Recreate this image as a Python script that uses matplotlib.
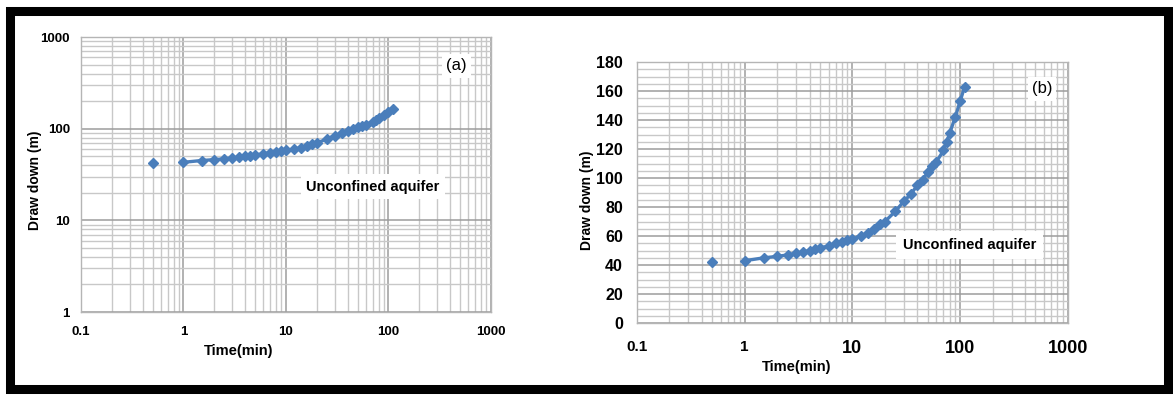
import numpy as np
import matplotlib
matplotlib.use("Agg")
import matplotlib.pyplot as plt
import matplotlib.patches as patches
from matplotlib.ticker import LogLocator, MultipleLocator, NullFormatter, FixedLocator

plt.rcParams['font.family'] = ['Liberation Sans', 'DejaVu Sans']

# pumping test data
t_first = [0.5]
s_first = [42]
time_min = [1, 1.5, 2, 2.5, 3, 3.5, 4, 4.5, 5, 6, 7, 8, 9, 10, 12, 14, 16, 18, 20,
            25, 30, 35, 40, 45, 50, 55, 60, 70, 75, 80, 90, 100, 110]
drawdown = [43, 45, 46, 47, 48, 49, 50, 51, 52, 53, 55, 56, 57, 58, 60, 62, 65, 68, 70,
            77, 84, 89, 95, 99, 104, 108, 111, 119, 125, 131, 142, 153, 163]

x_ticks = [0.1, 1, 10, 100, 1000]
x_ticklabels = ["0.1", "1", "10", "100", "1000"]
y_ticks_a = [1, 10, 100, 1000]
y_ticks_b = list(range(0, 181, 20))

blue = "#4a7ebb"
major_c = "#9c9c9c"
minor_c = "#c8c8c8"

fig = plt.figure(figsize=(11.73, 3.95), dpi=100)

# black frame round the whole picture
fig.add_artist(patches.Rectangle((9.5 / 1173, 6 / 395), 1158 / 1173, 378 / 395,
                                 transform=fig.transFigure, fill=False,
                                 edgecolor="black", linewidth=6.5))

ax1 = fig.add_axes([0.069, 0.210, 0.3496, 0.6962])
ax2 = fig.add_axes([0.543, 0.182, 0.3674, 0.661])


def style_grid(ax):
    ax.grid(True, which="major", color=major_c, linewidth=1.1)
    ax.grid(True, which="minor", color=minor_c, linewidth=1.0)
    ax.set_axisbelow(True)
    for sp in ax.spines.values():
        sp.set_color("#b5b5b5")
        sp.set_linewidth(1.0)
    ax.tick_params(which="both", length=0)


# ---- panel (a): log-log
ax1.set_xscale("log")
ax1.set_yscale("log")
ax1.set_xlim(0.1, 1000)
ax1.set_ylim(1, 1000)
ax1.xaxis.set_major_locator(FixedLocator(x_ticks))
ax1.yaxis.set_major_locator(FixedLocator(y_ticks_a))
ax1.xaxis.set_minor_locator(LogLocator(base=10, subs=np.arange(2, 10)))
ax1.yaxis.set_minor_locator(LogLocator(base=10, subs=np.arange(2, 10)))
ax1.xaxis.set_minor_formatter(NullFormatter())
ax1.yaxis.set_minor_formatter(NullFormatter())
ax1.set_xticklabels(x_ticklabels, fontsize=9.5, fontweight="bold")
ax1.set_yticklabels([str(v) for v in y_ticks_a], fontsize=9.5, fontweight="bold")
ax1.tick_params(axis="x", pad=10)
ax1.tick_params(axis="y", pad=8)
style_grid(ax1)
ax1.plot(t_first, s_first, "D", color=blue, markersize=5)
ax1.plot(time_min, drawdown, "-D", color=blue, markersize=5, linewidth=2.4)
ax1.set_xlabel("Time(min)", fontsize=10.5, fontweight="bold")
ax1.set_ylabel("Draw down (m)", fontsize=10, fontweight="bold")
ax1.xaxis.set_label_coords(0.385, -0.142)
ax1.yaxis.set_label_coords(-0.112, 0.48)
ax1.xaxis.label.set_va("center")
ax1.yaxis.label.set_va("center")
ax1.text(0.712, 0.455, "Unconfined aquifer", transform=ax1.transAxes,
         ha="center", va="center", fontsize=10.5, fontweight="bold",
         bbox=dict(facecolor="white", edgecolor="none", pad=4))
ax1.text(0.915, 0.895, "(a)", transform=ax1.transAxes, ha="center", va="center",
         fontsize=12, bbox=dict(facecolor="white", edgecolor="none", pad=3))

# ---- panel (b): semi-log
ax2.set_xscale("log")
ax2.set_xlim(0.1, 1000)
ax2.set_ylim(0, 180)
ax2.xaxis.set_major_locator(FixedLocator(x_ticks))
ax2.xaxis.set_minor_locator(LogLocator(base=10, subs=np.arange(2, 10)))
ax2.xaxis.set_minor_formatter(NullFormatter())
ax2.yaxis.set_major_locator(FixedLocator(y_ticks_b))
ax2.yaxis.set_minor_locator(MultipleLocator(5))
ax2.set_xticklabels(x_ticklabels, fontweight="bold")
for lab, v in zip(ax2.get_xticklabels(), x_ticks):
    lab.set_fontsize(11 if v < 10 else 13)
ax2.set_yticklabels([str(v) for v in y_ticks_b], fontsize=11.5, fontweight="bold")
ax2.tick_params(axis="x", pad=12)
ax2.tick_params(axis="y", pad=10)
style_grid(ax2)
ax2.plot(t_first, s_first, "D", color=blue, markersize=5.5)
ax2.plot(time_min, drawdown, "-D", color=blue, markersize=5.5, linewidth=2.4)
ax2.set_xlabel("Time(min)", fontsize=10.5, fontweight="bold")
ax2.set_ylabel("Draw down (m)", fontsize=10, fontweight="bold")
ax2.xaxis.set_label_coords(0.371, -0.169)
ax2.yaxis.set_label_coords(-0.116, 0.47)
ax2.xaxis.label.set_va("center")
ax2.yaxis.label.set_va("center")
ax2.text(0.772, 0.299, "Unconfined aquifer", transform=ax2.transAxes,
         ha="center", va="center", fontsize=10.5, fontweight="bold",
         bbox=dict(facecolor="white", edgecolor="none", pad=5))
ax2.text(0.94, 0.897, "(b)", transform=ax2.transAxes, ha="center", va="center",
         fontsize=12, bbox=dict(facecolor="white", edgecolor="none", pad=3))

fig.savefig("out.png", dpi=100)
